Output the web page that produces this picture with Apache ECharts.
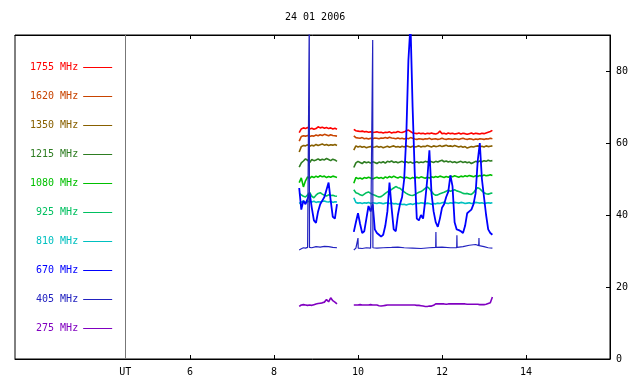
<!DOCTYPE html>
<html>
<head>
<meta charset="utf-8">
<title>24 01 2006</title>
<script src="https://cdn.jsdelivr.net/npm/echarts@6/dist/echarts.min.js"></script>
<style>
  html, body { margin: 0; padding: 0; background: #fff; }
  #chart { width: 640px; height: 384px; }
</style>
</head>
<body>
<div id="chart"></div>
<script>
// sample times (UT hours); 9.70 is the data gap
var hours = [8.60,8.65,8.70,8.75,8.80,8.85,8.90,8.95,9.00,9.05,9.10,9.15,9.20,9.25,9.30,9.35,9.40,9.45,9.50,
  9.70,
  9.90,9.95,10.00,10.05,10.10,10.15,10.20,10.25,10.30,10.35,10.40,10.45,10.50,10.55,10.60,10.65,10.70,10.75,10.80,10.85,
  10.90,10.95,11.00,11.05,11.10,11.15,11.20,11.25,11.30,11.35,11.40,11.45,11.50,11.55,11.60,11.65,11.70,11.75,11.80,11.85,
  11.90,11.95,12.00,12.05,12.10,12.15,12.20,12.25,12.30,12.35,12.40,12.45,12.50,12.55,12.60,12.65,12.70,12.75,12.80,12.85,
  12.90,12.95,13.00,13.05,13.10,13.15,13.20];

var f1755 = [62.9,63.9,64.2,64.0,64.3,63.9,64.1,63.8,64.0,64.5,64.2,64.4,64.1,64.3,64.0,64.2,63.9,64.1,63.8,
  null,
  63.8,63.4,63.3,63.2,63.3,63.1,63.2,63.0,63.1,62.9, 63.0,63.1,62.9,63.0,62.8,63.0,62.9,63.1,62.8,63.0,
  62.9,63.2,63.0,62.9,63.1,63.4,63.6,63.2,62.8,62.7, 62.6,62.8,62.6,62.7,62.5,62.7,62.6,62.8,62.6,62.5,
  62.7,63.3,62.6,62.7,62.5,62.8,62.6,62.7,62.5,62.6, 62.8,62.5,62.7,62.6,62.4,62.6,62.8,62.5,62.7,62.6,
  62.5,62.7,62.6,62.8,63.0,63.2,63.5];
var f1620 = [60.5,61.8,62.0,61.9,62.1,61.8,62.0,61.9,62.2,62.0,62.3,62.1,62.4,62.2,62.0,62.3,62.1,62.0,61.9,
  null,
  62.0,61.5,61.4,61.3,61.5,61.2,61.3,61.1,61.3,61.2, 61.4,61.3,61.2,61.4,61.3,61.5,61.3,61.6,61.4,61.3,
  61.2,61.4,61.2,61.3,61.1,61.3,61.2,61.5,61.3,61.1, 61.0,61.2,61.1,61.0,61.2,61.1,61.3,61.0,61.1,61.2,
  61.0,61.1,61.3,61.1,61.0,61.2,61.1,61.0,61.2,61.1, 61.0,61.2,61.3,61.1,61.0,61.2,61.1,60.9,61.1,61.0,
  61.2,61.1,61.0,61.2,61.1,61.3,61.2];
var f1350 = [57.5,59.0,59.3,59.2,59.5,59.1,59.4,59.2,59.6,59.3,59.5,59.7,59.4,59.6,59.3,59.5,59.4,59.6,59.3,
  null,
  58.0,59.2,58.9,59.1,58.8,59.0,58.7,58.9,59.0,58.8, 58.9,59.1,58.8,59.0,58.7,58.9,59.1,58.8,59.0,59.2,
  58.9,59.0,58.8,59.1,58.9,59.2,59.0,58.8,59.1,58.9, 59.0,59.2,58.9,59.1,59.0,59.3,59.1,58.9,59.2,59.0,
  59.1,59.3,59.0,59.2,59.4,59.1,59.2,59.0,59.3,59.1, 58.9,59.1,58.8,59.0,58.6,58.8,59.0,58.9,59.1,59.2,
  59.0,59.1,58.9,59.2,59.0,59.1,59.2];
var f1215 = [53.3,54.5,55.0,55.6,55.2,54.6,55.4,55.1,55.3,55.6,55.2,55.5,55.3,55.7,55.4,55.1,55.5,55.3,54.9,
  null,
  53.2,54.5,54.9,54.6,54.3,54.8,54.5,54.7,54.4,54.8, 54.6,54.3,54.7,54.5,54.8,54.4,54.9,54.7,55.0,54.6,
  54.8,54.5,54.7,54.9,54.6,54.8,54.5,54.7,54.4,54.6, 54.8,54.5,54.7,54.6,54.9,54.7,55.0,54.8,54.6,54.9,
  54.7,55.0,55.2,54.8,55.0,54.7,54.9,54.6,54.8,54.5, 54.7,54.9,54.6,54.8,54.5,54.7,54.3,54.6,54.9,54.7,
  55.0,54.8,55.1,54.9,55.2,55.0,55.1];
var f1080 = [49.0,50.3,47.8,49.5,50.6,50.2,50.7,50.4,50.8,50.5,50.9,50.6,50.8,50.4,50.7,50.5,50.8,50.6,50.4,
  null,
  48.8,50.4,50.1,50.3,50.0,50.4,50.2,50.5,50.3,50.0, 50.3,50.5,50.2,50.4,50.1,50.6,50.3,50.7,50.4,50.8,
  50.5,50.3,50.6,50.4,50.2,50.5,50.3,50.1,50.4,50.2, 50.5,50.3,50.6,50.4,50.2,50.5,50.3,50.6,50.4,50.7,
  50.5,50.8,50.6,50.4,50.7,50.5,50.8,50.6,50.9,50.7, 50.5,50.8,50.6,50.9,50.7,51.0,50.8,50.6,50.9,50.7,
  51.0,50.8,51.1,50.9,51.0,51.2,51.0];
var f925 = [46.0,45.6,45.2,45.0,45.6,46.3,45.2,44.8,45.5,46.0,46.2,45.8,45.5,45.3,45.6,45.4,45.5,45.3,45.2,
  null,
  47.0,46.2,46.0,45.6,45.4,45.8,46.2,46.4,46.0,45.7, 45.5,45.2,45.0,45.1,45.5,46.0,46.4,46.8,47.1,47.5,
  47.9,47.6,47.4,46.9,46.4,46.0,45.7,45.5,45.4,45.6, 46.0,46.3,46.5,46.9,47.4,47.8,47.3,46.5,45.8,45.5,
  45.6,45.9,46.1,46.3,46.6,46.9,46.6,46.8,47.0,46.7, 46.5,46.3,46.0,45.9,46.0,45.8,45.7,46.2,47.0,47.6,
  47.3,46.7,46.2,45.9,45.8,46.0,46.1];
var f810 = [43.2,43.6,43.8,43.5,43.7,43.9,43.6,43.8,43.5,43.7,43.6,43.8,43.9,43.7,43.6,43.8,43.5,43.7,43.6,
  null,
  44.8,43.5,43.3,43.4,43.2,43.4,43.3,43.5,43.2,43.4, 43.3,43.2,43.4,43.3,43.1,43.3,43.4,43.2,43.3,43.1,
  43.2,43.0,43.1,42.9,43.0,42.8,43.0,43.1,42.9,43.1, 43.3,43.2,43.4,43.3,43.1,43.3,43.2,43.0,43.2,43.1,
  43.3,43.2,43.4,43.5,43.3,43.2,43.4,43.3,43.5,43.4, 43.3,43.5,43.4,43.2,43.3,43.4,43.2,43.3,43.5,43.4,
  43.3,43.4,43.2,43.3,43.4,43.3,43.4];
var f670 = [47.5,41.5,44.0,43.0,44.5,46.0,42.0,38.5,37.8,41.0,43.0,44.0,45.0,47.0,49.0,44.0,39.5,39.0,43.0,
  null,
  35.3,38.0,40.5,37.5,35.0,35.5,39.0,42.5,41.0,43.0, 36.0,35.0,34.5,34.0,34.5,37.0,41.0,49.0,42.0,36.0,
  35.5,40.0,43.0,45.0,50.0,62.0,83.0,93.0,70.0,52.0, 39.0,38.5,40.0,39.0,44.0,50.0,58.0,46.0,41.0,38.0,
  36.7,39.0,42.0,43.0,45.0,46.5,51.0,48.0,38.0,36.0, 35.8,35.5,35.0,37.0,40.5,41.0,41.5,43.0,46.0,55.0,
  60.0,50.0,45.0,40.0,36.0,35.0,34.5];
var f275 = [14.6,15.0,15.1,15.0,14.9,15.0,14.9,15.1,15.3,15.4,15.5,15.6,15.8,16.5,15.9,17.0,16.2,15.8,15.3,
  null,
  15.0,15.0,15.0,15.1,15.0,15.0,15.0,15.0,15.1,15.0, 15.0,15.0,14.8,14.7,14.8,14.9,15.0,15.0,15.0,15.0,
  15.0,15.0,15.0,15.0,15.0,15.0,15.0,15.0,15.0,15.0, 14.9,14.9,14.8,14.7,14.6,14.6,14.7,14.7,14.9,15.3,
  15.3,15.3,15.3,15.3,15.2,15.3,15.3,15.3,15.3,15.3, 15.3,15.3,15.3,15.3,15.2,15.2,15.2,15.2,15.2,15.2,
  15.1,15.1,15.1,15.2,15.4,15.6,17.2];

// 405 MHz has its own sample times (narrow spikes)
var hours405 = [8.60,8.65,8.70,8.75,8.80,8.835,8.84,8.845,8.90,9.00,9.10,9.20,9.30,9.40,9.50,
  9.70,
  9.90,9.95,9.995,10.00,10.005,10.10,10.20,10.30,10.345,10.35,10.355,10.45,10.60,10.80,10.95,11.10,11.30,11.50,
  11.70,11.85,11.855,11.86,11.865,12.00,12.20,12.35,12.355,12.36,12.365,12.50,12.65,12.80,12.875,12.88,12.885,13.00,13.10,13.20];
var f405 = [30.3,30.6,30.9,30.8,31.0,31.0,95.0,31.0,30.9,31.2,31.1,31.3,31.2,31.0,30.9,
  null,
  30.3,30.8,30.8,33.6,30.8,30.7,30.9,30.8,30.9,88.6,30.9,30.8,30.9,31.0,31.1,30.9,30.8,30.7,
  30.9,31.0,35.3,31.0,31.0,31.1,30.9,30.9,34.4,31.0,31.0,31.2,31.6,31.8,31.5,33.6,31.5,31.2,30.9,30.8];

var bands = ['1755 MHz','1620 MHz','1350 MHz','1215 MHz','1080 MHz','925 MHz','810 MHz','670 MHz','405 MHz','275 MHz'];
var colors = ['#ff0000','#c84400','#886000','#2e7d22','#00c000','#00c060','#00c0c0','#0000ff','#2222c0','#8000c0'];
var values = [f1755,f1620,f1350,f1215,f1080,f925,f810,f670,f405,f275];

var xTicks = [6, 8, 10, 12, 14];
var utHour = 4.46;
var yTicks = [0, 20, 40, 60, 80];

var font = 'DejaVu Sans Mono';
var myChart = echarts.init(document.getElementById('chart'));

var series = bands.map(function (name, i) {
  var t = values[i] === f405 ? hours405 : hours;
  var w = i === 7 ? 1.8 : (i === 8 ? 1.2 : 1.6);
  var s = {
    name: name,
    type: 'line',
    symbol: 'none',
    connectNulls: false,
    clip: true,
    lineStyle: { color: colors[i], width: w },
    itemStyle: { color: colors[i] },
    data: t.map(function (h, k) { return [h, values[i][k]]; })
  };
  if (i === 0) {
    // UT separator
    s.markLine = {
      silent: true,
      symbol: 'none',
      label: { show: false },
      lineStyle: { color: '#777', width: 1, type: 'solid' },
      data: [{ xAxis: utHour }]
    };
  }
  return s;
});

var option = {
  animation: false,
  backgroundColor: '#fff',
  title: {
    text: '24 01 2006',
    left: 285,
    top: 12,
    padding: 0,
    textStyle: { fontFamily: font, fontSize: 10, fontWeight: 'normal', color: '#000' }
  },
  legend: {
    orient: 'vertical',
    align: 'right',
    left: 30,
    top: 60.5,
    padding: 0,
    itemGap: 15,
    itemWidth: 29,
    itemHeight: 1,
    icon: 'rect',
    selectedMode: false,
    textStyle: { fontFamily: font, fontSize: 10, lineHeight: 14 },
    data: bands.map(function (name, i) {
      return { name: name, icon: 'rect', itemStyle: { color: colors[i] }, textStyle: { color: colors[i] } };
    })
  },
  grid: {
    left: 15, right: 30, top: 35, bottom: 25,
    show: true, borderColor: '#000', borderWidth: 1
  },
  xAxis: [{
    type: 'value',
    min: 1.8333,
    max: 16,
    position: 'bottom',
    axisLine: { show: true, lineStyle: { color: '#000', width: 1 } },
    axisTick: { show: true, inside: true, length: 4, customValues: xTicks, lineStyle: { color: '#000' } },
    axisLabel: {
      customValues: [utHour].concat(xTicks),
      margin: 8,
      fontFamily: font, fontSize: 10, color: '#000',
      formatter: function (v) { return v < 5 ? 'UT' : String(v); }
    },
    splitLine: { show: false }
  }, {
    type: 'value',
    min: 1.8333,
    max: 16,
    position: 'top',
    axisLine: { show: true, lineStyle: { color: '#000', width: 1 } },
    axisTick: { show: true, inside: true, length: 4, customValues: xTicks, lineStyle: { color: '#000' } },
    axisLabel: { show: false },
    splitLine: { show: false }
  }],
  yAxis: {
    type: 'value',
    min: 0,
    max: 90,
    position: 'right',
    axisLine: { show: true, lineStyle: { color: '#000', width: 1 } },
    axisTick: { show: true, inside: true, length: 4, customValues: yTicks, lineStyle: { color: '#000' } },
    axisLabel: { customValues: yTicks, margin: 6, fontFamily: font, fontSize: 10, color: '#000' },
    splitLine: { show: false }
  },
  series: series
};
myChart.setOption(option);
</script>
</body>
</html>
